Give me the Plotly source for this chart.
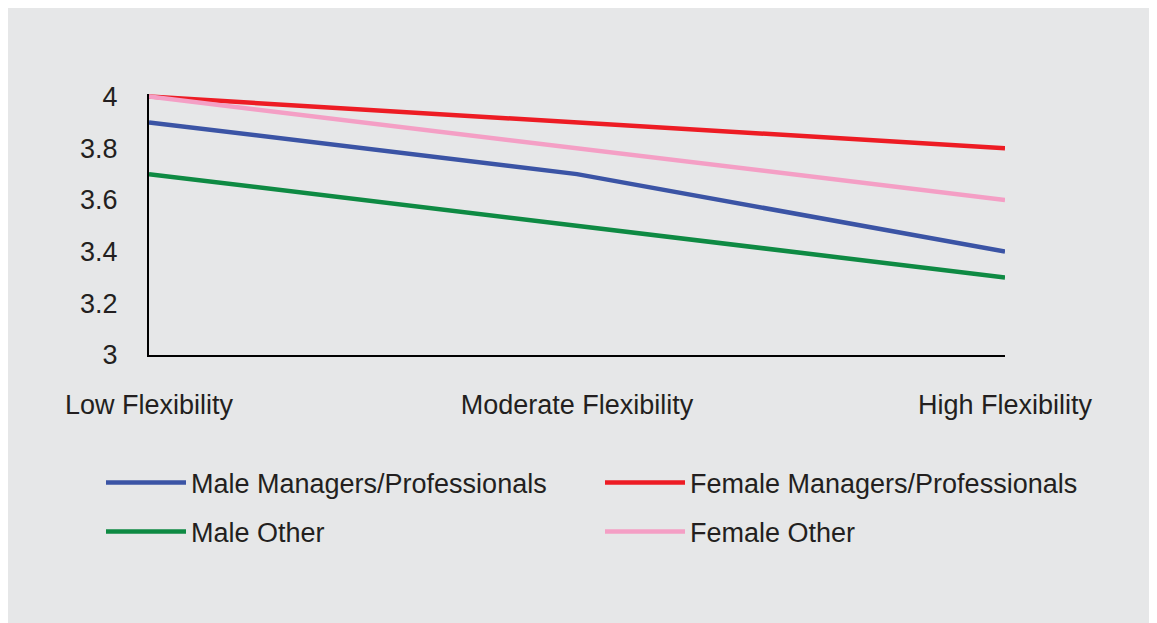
import plotly.graph_objects as go

categories = ["Low Flexibility", "Moderate Flexibility", "High Flexibility"]
male_mp = [3.9, 3.7, 3.4]
female_mp = [4.0, 3.9, 3.8]
male_other = [3.7, 3.5, 3.3]
female_other = [4.0, 3.8, 3.6]
y_ticks = [3, 3.2, 3.4, 3.6, 3.8, 4]
y_ticktext = ["3", "3.2", "3.4", "3.6", "3.8", "4"]

series = [
    ("Male Managers/Professionals", male_mp, "#3b54a5", "legend"),
    ("Female Managers/Professionals", female_mp, "#ed1c24", "legend"),
    ("Male Other", male_other, "#0e8a43", "legend2"),
    ("Female Other", female_other, "#f49fc5", "legend2"),
]

W, H = 1157, 623
L, R, T, B = 141, 160, 86, 276
pw, ph = W - L - R, H - T - B
BG = "#e6e7e8"
FONT = "Liberation Sans, Arial, sans-serif"
TXT = "#231f20"
FS = 27

fig = go.Figure()
for name, vals, color, lg in series:
    fig.add_trace(go.Scatter(x=categories, y=vals, mode="lines", name=name,
                             line=dict(color=color, width=4.5), legend=lg))

def px(p):
    return (p - L) / pw

def py(q):
    return (H - B - q) / ph

leg_common = dict(orientation="h", xanchor="left", yanchor="middle",
                  font=dict(family=FONT, size=FS, color=TXT),
                  bgcolor="rgba(0,0,0,0)", itemwidth=80,
                  entrywidth=404, entrywidthmode="pixels", traceorder="normal")

fig.update_layout(
    width=W, height=H,
    margin=dict(l=L, r=R, t=T, b=B, pad=0),
    paper_bgcolor=BG, plot_bgcolor=BG,
    font=dict(family=FONT, size=FS, color=TXT),
    showlegend=True,
    legend=dict(x=px(93), y=py(475), **leg_common),
    legend2=dict(x=px(93), y=py(524), **leg_common),
    xaxis=dict(range=[0, 2], showgrid=False, zeroline=False, showline=True,
               linecolor="black", linewidth=2, ticks="", ticklabelstandoff=25,
               tickfont=dict(family=FONT, size=FS, color=TXT)),
    yaxis=dict(range=[3, 4.01], tickvals=y_ticks, ticktext=y_ticktext,
               showgrid=False, zeroline=False, showline=True,
               linecolor="black", linewidth=2, ticks="", ticklabelstandoff=24,
               tickfont=dict(family=FONT, size=FS, color=TXT)),
)

fig.write_html("out.html")
